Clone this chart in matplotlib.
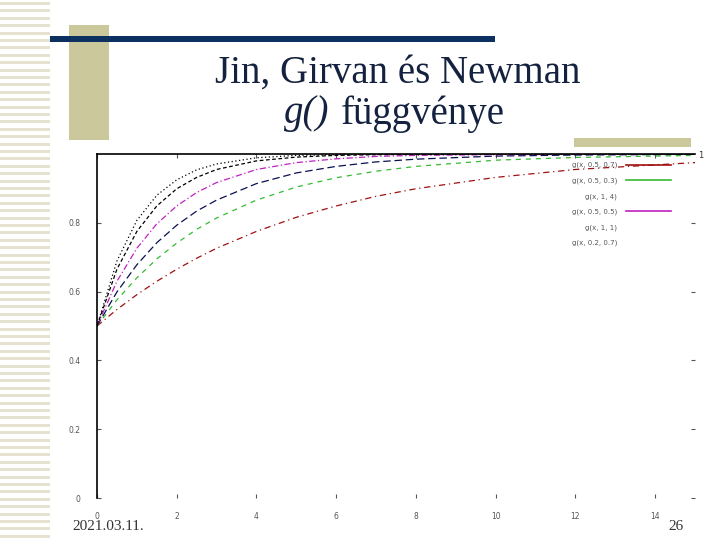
import matplotlib.pyplot as plt
import numpy as np
from matplotlib.patches import Rectangle
from matplotlib.lines import Line2D

# x pontok es a hat gorbe (leolvasva a kepről)
x = [0, 0.5, 1, 1.5, 2, 2.5, 3, 4, 5, 6, 7, 8, 10, 12, 15]
g_red = [0.5, 0.548, 0.591, 0.630, 0.665, 0.697, 0.726, 0.775, 0.816, 0.849, 0.877, 0.899, 0.932, 0.955, 0.975]
g_green = [0.5, 0.576, 0.640, 0.695, 0.741, 0.781, 0.814, 0.866, 0.904, 0.931, 0.950, 0.964, 0.982, 0.990, 0.996]
g_navy = [0.5, 0.599, 0.678, 0.742, 0.793, 0.834, 0.866, 0.914, 0.945, 0.964, 0.977, 0.985, 0.994, 0.997, 0.999]
g_magenta = [0.5, 0.630, 0.726, 0.797, 0.849, 0.888, 0.917, 0.955, 0.975, 0.986, 0.993, 0.996, 0.998, 0.999, 1.0]
g_black = [0.5, 0.665, 0.775, 0.849, 0.899, 0.932, 0.955, 0.980, 0.991, 0.996, 0.998, 0.999, 1.0, 1.0, 1.0]
g_top = [0.5, 0.689, 0.807, 0.880, 0.925, 0.954, 0.971, 0.989, 0.996, 0.998, 0.999, 1.0, 1.0, 1.0, 1.0]

labels = ["g(x, 0.5, 0.7)", "g(x, 0.5, 0.3)", "g(x, 1, 4)",
          "g(x, 0.5, 0.5)", "g(x, 1, 1)", "g(x, 0.2, 0.7)"]
xticks = [0, 2, 4, 6, 8, 10, 12, 14]
yticks = [0, 0.2, 0.4, 0.6, 0.8]
ytick_labels = ["0", "0.2", "0.4", "0.6", "0.8"]

fig = plt.figure(figsize=(7.2, 5.4), dpi=100)

# hatter: dia dekoracio, pixel koordinatakban
bg = fig.add_axes([0, 0, 1, 1], zorder=0)
bg.set_xlim(0, 720)
bg.set_ylim(540, 0)
bg.axis('off')
for y0 in np.arange(2, 540, 7.4):
    bg.add_patch(Rectangle((0, y0), 50, 3.0, color='#e5e3cf', lw=0))
bg.add_patch(Rectangle((69, 25), 40, 115, color='#cbc99b', lw=0))
bg.add_patch(Rectangle((50, 36), 445, 6, color='#0c3060', lw=0))
bg.add_patch(Rectangle((574, 138), 117, 9, color='#cbc99b', lw=0))

serif = ['Liberation Serif', 'DejaVu Serif']
bg.text(398, 73, "Jin, Girvan és Newman", ha='center', va='center',
        fontsize=28, family=serif, color='#14223f')
bg.text(284, 114, "g()", ha='left', va='center', fontsize=28, family=serif,
        style='italic', color='#14223f')
bg.text(341, 114, "függvénye", ha='left', va='center', fontsize=28,
        family=serif, color='#14223f')
bg.text(72, 527, "2021.03.11.", ha='left', va='center', fontsize=11,
        family=serif, color='#333333')
bg.text(684, 527, "26", ha='right', va='center', fontsize=11,
        family=serif, color='#333333')
bg.text(701, 155, "1", ha='center', va='center', fontsize=6, color='#333333')

# a grafikon
ax = fig.add_axes([97 / 720, 42 / 540, 598 / 720, 344 / 540], zorder=1)
ax.patch.set_alpha(0)
series = [
    (g_red, '#a01010', (0, (5, 3, 1, 3))),
    (g_green, '#33bb33', (0, (4, 4))),
    (g_navy, '#0a1050', (0, (6, 3))),
    (g_magenta, '#c020c0', (0, (5, 2, 1, 2))),
    (g_black, '#000000', (0, (3, 2))),
    (g_top, '#000000', (0, (1, 2))),
]
handles = []
for (vals, col, ls), lab in zip(series, labels):
    ln, = ax.plot(x, vals, color=col, linestyle=ls, lw=0.9, label=lab)
    handles.append(ln)

ax.set_xlim(0, 15)
ax.set_ylim(0, 1)
ax.spines['bottom'].set_visible(False)
ax.spines['right'].set_visible(False)
ax.spines['left'].set_linewidth(1.2)
ax.spines['top'].set_linewidth(1.2)
ax.set_xticks(xticks)
ax.set_xticklabels([str(t) for t in xticks])
ax.set_yticks(yticks)
ax.set_yticklabels(ytick_labels)
ax.tick_params(axis='both', labelsize=5.5, labelcolor='#555555', color='#555555',
               direction='in', length=3, width=0.8, top=True, right=True)
ax.tick_params(axis='x', pad=10)
ax.tick_params(axis='y', pad=12)

leg_handles = []
for i, h in enumerate(handles):
    visible = i in (0, 1, 3)
    leg_handles.append(Line2D([0], [0], color=h.get_color(), lw=1.2,
                              alpha=1.0 if visible else 0.0))
ax.legend(leg_handles, labels, loc='upper right', bbox_to_anchor=(0.97, 0.995),
          frameon=False, fontsize=5, markerfirst=False, handlelength=6.5,
          handletextpad=1.2, labelspacing=1.3, labelcolor='#555555')

fig.savefig('out.png', dpi=100)
